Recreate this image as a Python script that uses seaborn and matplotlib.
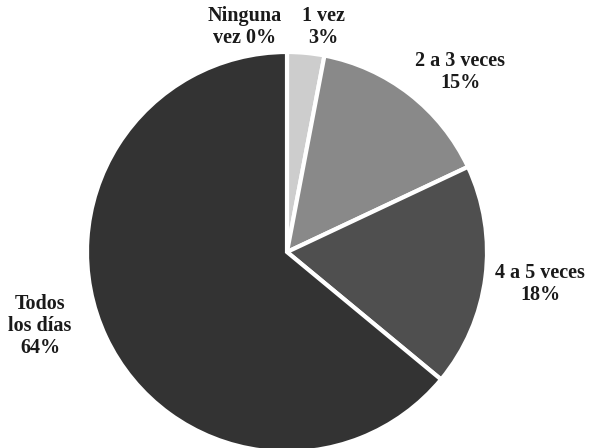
import matplotlib
matplotlib.use("Agg")
import matplotlib.pyplot as plt
import seaborn as sns

categories = ["Ninguna\nvez", "1 vez", "2 a 3 veces", "4 a 5 veces", "Todos\nlos días"]
values = [0, 3, 15, 18, 64]
pct_labels = ["0%", "3%", "15%", "18%", "64%"]
colors = ["#e0e0e0", "#cdcdcd", "#898989", "#4f4f4f", "#333333"]

sns.set_theme(style="white")
plt.rcParams['font.family'] = ['Liberation Serif', 'DejaVu Serif']

fig = plt.figure(figsize=(5.93, 4.48), dpi=100)
ax = fig.add_axes([0, 0, 1, 1])
ax.pie(values, colors=colors, startangle=90, counterclock=False,
       radius=1.0, center=(0, 0),
       wedgeprops=dict(edgecolor="white", linewidth=3))
ax.set_xlim(-1.435, 1.53)
ax.set_ylim(-0.98, 1.26)
ax.set_aspect("auto")
ax.axis("off")

label_pos = [(-0.21, 1.125), (0.18, 1.125), (0.865, 0.9), (1.265, -0.16), (-1.235, -0.37)]
for cat, pct, (x, y) in zip(categories, pct_labels, label_pos):
    if cat.startswith("Ninguna"):
        txt = "Ninguna\nvez " + pct
    else:
        txt = cat + "\n" + pct
    ax.text(x, y, txt, ha="center", va="center", fontsize=14.5, fontweight="bold",
            color="#1a1a1a", linespacing=1.15)

fig.savefig("out.png", dpi=100)
